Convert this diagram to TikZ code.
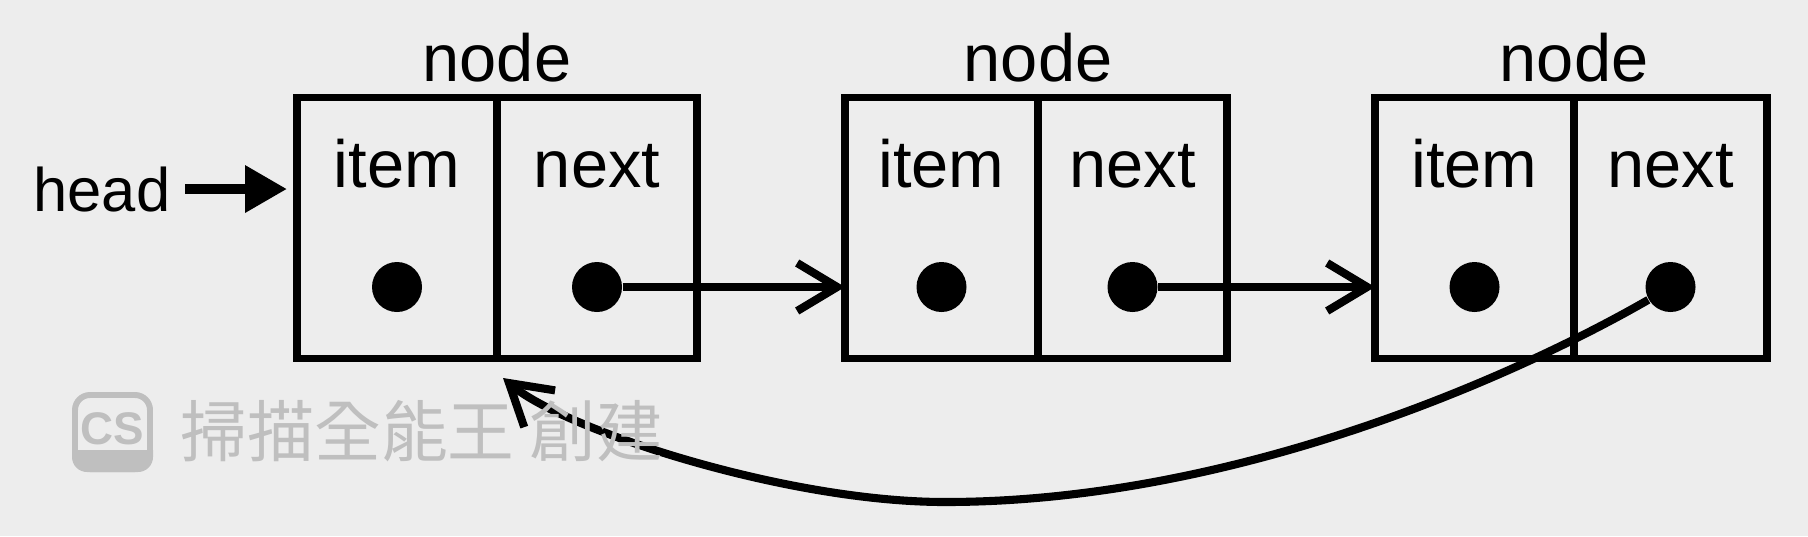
\documentclass[tikz,border=0pt]{standalone}
\usepackage{fontspec}
\setmainfont{Liberation Sans}
\newfontfamily\cjkfont{Noto Sans CJK TC}
\usetikzlibrary{positioning,arrows.meta}

\begin{document}
\begin{tikzpicture}[
        cell/.style={draw, line width=2.2pt, minimum width=#1, minimum height=2.61cm, inner sep=0pt, outer sep=0pt},
        lbl/.style={font=\fontsize{19}{22}\selectfont, inner sep=0pt, anchor=base},
        dot/.style={circle, fill=black, minimum size=5mm, inner sep=0pt},
        link/.style={line width=2.3pt, -{Straight Barb[length=4mm, width=4.8mm]}},
        wmark/.style={text=black!25, inner sep=0pt}
    ]
    \fill[white!93!black] (0,0) rectangle (18.08,5.36);
    \useasboundingbox (0,0) rectangle (18.08,5.36);

    \node[cell=2cm] (item1) at (3.97,3.08) {};
    \node[cell=2cm, right=0pt of item1] (next1) {};
    \node[cell=1.93cm, right=1.48cm of next1] (item2) {};
    \node[cell=1.89cm, right=0pt of item2] (next2) {};
    \node[cell=1.99cm, right=1.48cm of next2] (item3) {};
    \node[cell=1.93cm, right=0pt of item3] (next3) {};

    \foreach \c/\t [count=\i] in {item1/item, next1/next, item2/item, next2/next, item3/item, next3/next} {
        \node[lbl] (t\i) at ([yshift=4.1mm]\c.center) {\t};
        \node[dot] (d\i) at ([yshift=-5.9mm]\c.center) {};
    }
    \foreach \c [count=\i] in {item1, item2, item3}
        \node[lbl] (top\i) at ([yshift=1.6mm]\c.north east) {node};

    \node[lbl, anchor=base east, font=\fontsize{17.5}{21}\selectfont] (head) at ([xshift=-12.6mm, yshift=1.7mm]item1.west) {head};
    \draw[line width=2.8pt, -{Triangle[length=4.2mm, width=4.5mm]}, shorten <=1.4mm, shorten >=1mm] (head.east) -- (head.east -| item1.west);

    \draw[link] (d2) -- (d2 -| item2.west);
    \draw[link] (d4) -- (d4 -| item3.west);

    \coordinate (bottom) at (9.45,0.34);
    \coordinate (back) at (5.03,1.58);
    \draw[link] (d6) .. controls +(210:1.6) and +(0:3) .. (bottom) .. controls +(180:1.6) and +(-40:0.8) .. (back);

    \begin{scope}
        \clip (0.72,0.64) rectangle (1.53,0.86);
        \fill[black!25, rounded corners=1.5mm] (0.72,0.64) rectangle (1.53,1.44);
    \end{scope}
    \draw[black!25, line width=1.7pt, rounded corners=1.5mm] (0.75,0.67) rectangle (1.50,1.41);
    \node[wmark, font=\bfseries\fontsize{13}{15}\selectfont] (cs) at (1.125,1.075) {CS};
    \node[wmark, font=\cjkfont\fontsize{19}{22}\selectfont, anchor=west] (wm) at (1.80,1.05) {掃描全能王 創建};
\end{tikzpicture}
\end{document}
